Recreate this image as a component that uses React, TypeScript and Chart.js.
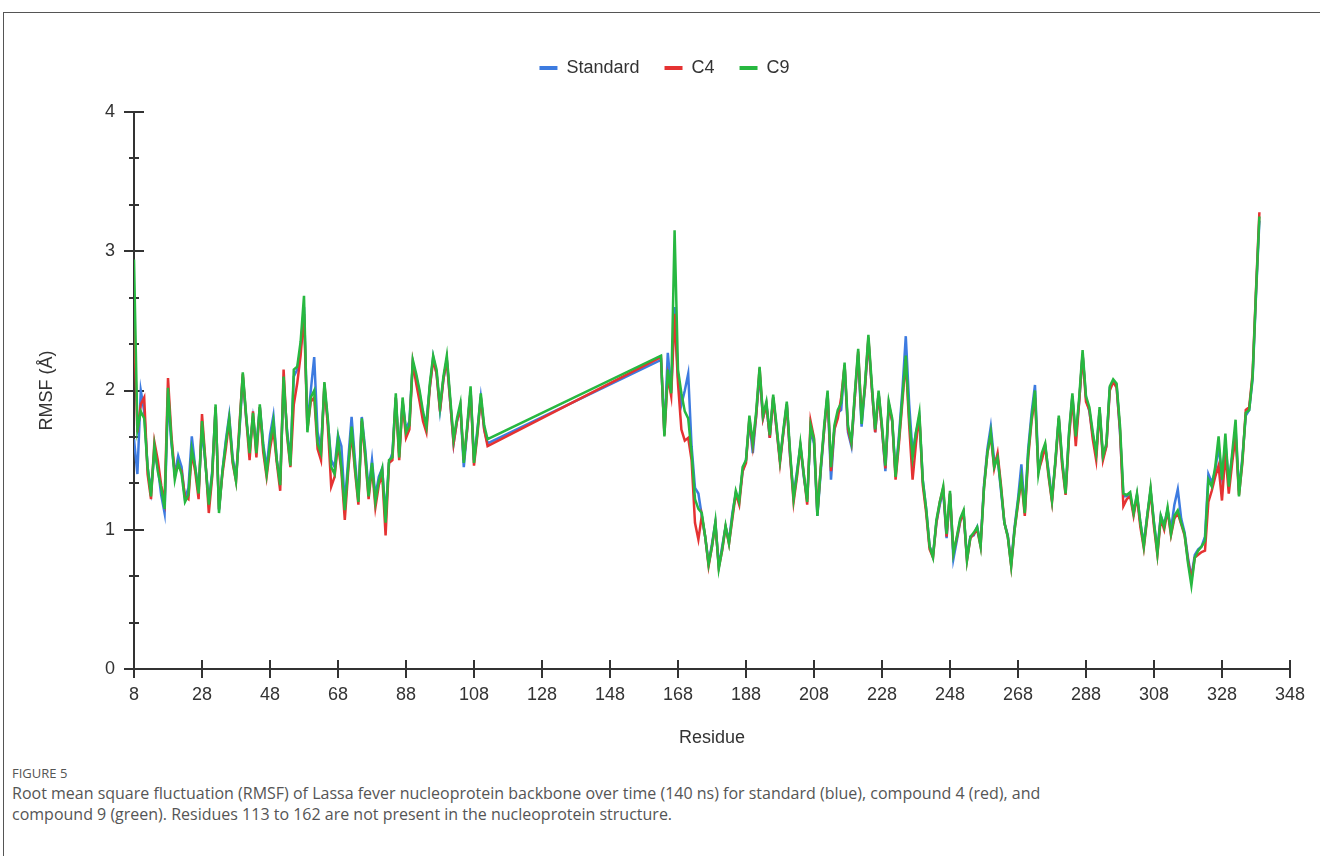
import React, { useEffect, useRef } from 'react';
import { Chart, registerables } from 'chart.js';

Chart.register(...registerables);

// Residue ranges present in the structure (113–162 are missing)
const RESIDUE_SEGMENTS: [number, number][] = [[8, 112], [163, 339]];

const SERIES_NAMES = ['Standard', 'C4', 'C9'];
const SERIES_COLORS = ['#3d7be0', '#e53232', '#27b840'];

// RMSF (Å), residues 8–112 then 163–339
const STANDARD = [
  1.65,1.40,2.00,1.85,1.45,1.28,1.55,1.45,1.25,1.12,
  1.95,1.62,1.40,1.53,1.45,1.22,1.30,1.67,1.45,1.28,
  1.72,1.48,1.20,1.42,1.88,1.14,1.42,1.64,1.82,1.52,
  1.38,1.70,2.10,1.80,1.58,1.80,1.60,1.88,1.62,1.44,
  1.68,1.82,1.50,1.35,2.05,1.72,1.50,2.10,2.15,2.30,
  2.60,1.75,2.00,2.24,1.70,1.58,2.02,1.78,1.50,1.45,
  1.68,1.60,1.18,1.50,1.81,1.50,1.22,1.81,1.58,1.28,
  1.50,1.24,1.38,1.44,1.10,1.48,1.55,1.95,1.55,1.92,
  1.72,1.78,2.20,2.10,1.98,1.82,1.78,2.02,2.24,2.12,
  1.86,2.08,2.22,1.92,1.62,1.78,1.88,1.45,1.72,2.00,
  1.50,1.72,1.95,1.72,1.62,
  2.22,1.70,2.27,2.00,2.60,2.10,1.90,2.00,2.12,1.60,
  1.30,1.26,1.10,0.95,0.76,0.90,1.05,0.74,0.88,1.02,
  0.92,1.12,1.26,1.22,1.42,1.50,1.78,1.55,1.82,2.12,
  1.80,1.90,1.66,1.95,1.72,1.50,1.70,1.90,1.52,1.25,
  1.42,1.60,1.38,1.22,1.72,1.62,1.10,1.42,1.72,1.98,
  1.36,1.72,1.84,1.86,2.18,1.70,1.60,1.95,2.26,1.74,
  2.02,2.36,2.02,1.70,1.98,1.72,1.42,1.90,1.78,1.40,
  1.68,2.00,2.39,1.90,1.55,1.70,1.80,1.36,1.15,0.88,
  0.82,1.05,1.18,1.28,0.94,1.26,0.79,0.92,1.06,1.12,
  0.80,0.95,0.96,1.02,0.90,1.32,1.58,1.74,1.50,1.52,
  1.28,1.05,0.96,0.76,1.02,1.22,1.47,1.14,1.58,1.84,
  2.04,1.45,1.52,1.60,1.42,1.22,1.48,1.80,1.48,1.28,
  1.68,1.96,1.66,1.92,2.26,1.95,1.85,1.68,1.55,1.86,
  1.52,1.60,2.02,2.06,2.04,1.70,1.24,1.24,1.25,1.12,
  1.25,1.05,0.90,1.10,1.28,1.05,0.86,1.10,1.04,1.14,
  1.00,1.18,1.29,1.08,0.98,0.80,0.66,0.82,0.86,0.88,
  0.95,1.40,1.34,1.42,1.60,1.38,1.62,1.35,1.52,1.72,
  1.28,1.52,1.82,1.86,2.08,2.68,3.22,
];

const C4 = [
  2.50,1.70,1.90,1.95,1.40,1.22,1.63,1.50,1.32,1.20,
  2.09,1.68,1.40,1.46,1.42,1.24,1.22,1.55,1.42,1.22,
  1.83,1.50,1.12,1.38,1.88,1.15,1.40,1.58,1.78,1.48,
  1.35,1.75,2.12,1.80,1.50,1.85,1.52,1.88,1.56,1.38,
  1.58,1.72,1.48,1.28,2.15,1.68,1.45,1.90,2.05,2.25,
  2.55,1.72,1.92,1.95,1.58,1.50,2.05,1.75,1.31,1.38,
  1.62,1.42,1.07,1.42,1.70,1.42,1.18,1.78,1.52,1.22,
  1.45,1.16,1.32,1.40,0.96,1.48,1.50,1.95,1.50,1.92,
  1.66,1.72,2.20,2.05,1.92,1.78,1.70,2.02,2.22,2.12,
  1.85,2.08,2.22,1.92,1.62,1.78,1.88,1.50,1.72,2.00,
  1.46,1.68,1.95,1.72,1.60,
  2.24,1.68,2.10,1.96,2.55,2.05,1.72,1.64,1.66,1.50,
  1.05,0.93,1.10,0.95,0.74,0.88,1.04,0.73,0.85,1.02,
  0.90,1.08,1.26,1.18,1.42,1.48,1.80,1.60,1.82,2.16,
  1.80,1.90,1.66,1.95,1.72,1.48,1.70,1.90,1.52,1.20,
  1.38,1.60,1.40,1.18,1.78,1.66,1.12,1.45,1.72,1.98,
  1.42,1.72,1.80,1.95,2.18,1.72,1.62,1.95,2.28,1.80,
  2.02,2.38,2.02,1.70,1.98,1.72,1.44,1.90,1.78,1.36,
  1.62,1.92,2.22,1.75,1.36,1.62,1.82,1.32,1.12,0.86,
  0.80,1.05,1.20,1.30,0.95,1.26,0.84,0.94,1.06,1.12,
  0.78,0.94,0.97,1.00,0.88,1.30,1.55,1.68,1.44,1.55,
  1.32,1.05,0.95,0.74,1.00,1.18,1.36,1.10,1.52,1.78,
  1.95,1.42,1.50,1.60,1.38,1.20,1.48,1.80,1.46,1.25,
  1.66,1.95,1.60,1.92,2.26,1.92,1.86,1.65,1.50,1.86,
  1.50,1.60,2.00,2.06,2.02,1.72,1.17,1.22,1.24,1.10,
  1.24,1.02,0.87,1.08,1.28,1.02,0.82,1.08,1.00,1.14,
  0.96,1.08,1.12,1.04,0.96,0.78,0.64,0.80,0.82,0.84,
  0.85,1.20,1.28,1.38,1.46,1.21,1.55,1.26,1.48,1.68,
  1.25,1.48,1.86,1.88,2.12,2.72,3.28,
];

const C9 = [
  2.94,1.72,1.85,1.80,1.45,1.24,1.60,1.42,1.30,1.15,
  2.02,1.65,1.36,1.48,1.40,1.20,1.25,1.58,1.45,1.26,
  1.78,1.48,1.18,1.40,1.90,1.12,1.42,1.62,1.80,1.50,
  1.35,1.72,2.13,1.82,1.55,1.84,1.55,1.90,1.60,1.40,
  1.62,1.78,1.50,1.32,2.10,1.70,1.46,2.15,2.17,2.35,
  2.68,1.70,1.95,2.00,1.62,1.55,2.06,1.80,1.45,1.40,
  1.66,1.45,1.14,1.45,1.74,1.45,1.20,1.80,1.55,1.24,
  1.48,1.20,1.35,1.44,1.05,1.50,1.52,1.98,1.52,1.95,
  1.70,1.75,2.22,2.12,2.00,1.85,1.74,2.05,2.25,2.15,
  1.88,2.10,2.25,1.95,1.65,1.80,1.91,1.48,1.75,2.03,
  1.48,1.70,1.98,1.75,1.65,
  2.25,1.67,2.15,1.98,3.15,2.15,1.98,1.85,1.80,1.55,
  1.22,1.15,1.12,0.95,0.75,0.88,1.06,0.72,0.86,1.03,
  0.90,1.10,1.28,1.20,1.45,1.50,1.82,1.62,1.85,2.17,
  1.82,1.92,1.68,1.97,1.75,1.50,1.72,1.92,1.55,1.22,
  1.40,1.62,1.40,1.20,1.75,1.65,1.10,1.45,1.75,2.00,
  1.45,1.75,1.86,1.91,2.20,1.75,1.63,1.98,2.30,1.76,
  2.05,2.40,2.05,1.72,2.00,1.75,1.46,1.92,1.80,1.38,
  1.65,1.95,2.25,1.80,1.52,1.70,1.84,1.35,1.15,0.88,
  0.80,1.07,1.20,1.31,0.97,1.28,0.83,0.95,1.08,1.14,
  0.78,0.95,0.98,1.02,0.88,1.30,1.55,1.70,1.45,1.52,
  1.30,1.05,0.95,0.74,1.00,1.20,1.38,1.12,1.55,1.80,
  2.00,1.40,1.55,1.62,1.40,1.21,1.50,1.82,1.50,1.26,
  1.70,1.98,1.67,1.95,2.29,1.96,1.88,1.70,1.55,1.88,
  1.53,1.62,2.03,2.08,2.05,1.75,1.26,1.25,1.27,1.12,
  1.26,1.05,0.88,1.10,1.30,1.05,0.83,1.10,1.02,1.16,
  0.97,1.10,1.14,1.05,0.97,0.76,0.60,0.80,0.85,0.88,
  0.92,1.36,1.31,1.45,1.67,1.36,1.69,1.31,1.55,1.79,
  1.24,1.50,1.84,1.86,2.10,2.70,3.25,
];

const X_TICKS = [8, 28, 48, 68, 88, 108, 128, 148, 168, 188, 208, 228, 248, 268, 288, 308, 328, 348];
const Y_TICKS = [0, 0.3333, 0.6667, 1, 1.3333, 1.6667, 2, 2.3333, 2.6667, 3, 3.3333, 3.6667, 4];

const X_TITLE = 'Residue';
const Y_TITLE = 'RMSF (Å)';
const FIGURE_LABEL = 'FIGURE 5';
const CAPTION_LINES = [
  'Root mean square fluctuation (RMSF) of Lassa fever nucleoprotein backbone over time (140 ns) for standard (blue), compound 4 (red), and',
  'compound 9 (green). Residues 113 to 162 are not present in the nucleoprotein structure.',
];

const FONT_FAMILY = '"Liberation Sans", Arial, sans-serif';
const TEXT_COLOR = '#333333';
const AXIS_COLOR = '#333333';

const isMajor = (v: number) => Math.abs(v - Math.round(v)) < 1e-3;

function buildResidues(): number[] {
  const out: number[] = [];
  for (const [a, b] of RESIDUE_SEGMENTS) for (let r = a; r <= b; r++) out.push(r);
  return out;
}

const axisTickPlugin = {
  id: 'axisTickMarks',
  beforeDatasetsDraw(chart: any) {
    const { ctx, chartArea, scales } = chart;
    const xs = scales.x;
    const ys = scales.y;
    ctx.save();
    ctx.strokeStyle = AXIS_COLOR;
    ctx.lineWidth = 2;
    ctx.beginPath();
    X_TICKS.forEach((v) => {
      const px = Math.round(xs.getPixelForValue(v));
      ctx.moveTo(px, chartArea.bottom - 9);
      ctx.lineTo(px, chartArea.bottom + 9);
    });
    Y_TICKS.forEach((v) => {
      const py = Math.round(ys.getPixelForValue(v));
      const len = isMajor(v) ? 10 : 5;
      ctx.moveTo(chartArea.left - len, py);
      ctx.lineTo(chartArea.left + len, py);
    });
    ctx.stroke();
    ctx.restore();
  },
};

export default function App() {
  const canvasRef = useRef<HTMLCanvasElement | null>(null);

  useEffect(() => {
    const canvas = canvasRef.current;
    if (!canvas) return;
    const residues = buildResidues();
    const seriesValues = [STANDARD, C4, C9];
    const datasets = SERIES_NAMES.map((name, i) => ({
      label: name,
      data: residues.map((r, j) => ({ x: r, y: seriesValues[i][j] })),
      borderColor: SERIES_COLORS[i],
      backgroundColor: SERIES_COLORS[i],
      borderWidth: 2.5,
      pointRadius: 0,
      tension: 0,
      fill: false,
      order: 3 - i,
    }));

    const font = { family: FONT_FAMILY, size: 18 };

    const chart = new Chart(canvas, {
      type: 'line',
      data: { datasets },
      plugins: [axisTickPlugin],
      options: {
        animation: false,
        responsive: false,
        maintainAspectRatio: false,
        layout: { padding: { left: 36, right: 27, top: 34, bottom: 1 } },
        plugins: {
          tooltip: { enabled: false },
          legend: {
            display: true,
            position: 'top',
            align: 'center',
            labels: {
              boxWidth: 18,
              boxHeight: 4,
              padding: 25,
              color: TEXT_COLOR,
              font,
              sort: (a: any, b: any) => a.datasetIndex - b.datasetIndex,
              generateLabels: (ch: any) =>
                (Chart.defaults.plugins.legend.labels.generateLabels as any)(ch).map((l: any) => ({
                  ...l,
                  lineWidth: 0,
                })),
            },
          },
          subtitle: {
            display: true,
            text: '',
            position: 'top',
            weight: 500,
            font: { size: 10 },
            padding: { top: 13, bottom: 0 },
          },
        },
        scales: {
          x: {
            type: 'linear',
            min: 8,
            max: 348,
            afterBuildTicks: (s: any) => {
              s.ticks = X_TICKS.map((v) => ({ value: v }));
            },
            afterFit: (s: any) => {
              s.height = 90;
            },
            ticks: {
              autoSkip: false,
              maxRotation: 0,
              padding: 15,
              color: TEXT_COLOR,
              font,
              callback: (v: any) => String(v),
            },
            grid: { display: false, drawTicks: false },
            border: { display: true, color: AXIS_COLOR, width: 2 },
            title: {
              display: true,
              text: X_TITLE,
              color: TEXT_COLOR,
              font,
              padding: { top: 0, bottom: 10 },
            },
          },
          y: {
            type: 'linear',
            min: 0,
            max: 4,
            afterBuildTicks: (s: any) => {
              s.ticks = Y_TICKS.map((v) => ({ value: v }));
            },
            afterFit: (s: any) => {
              s.width = 98;
            },
            ticks: {
              autoSkip: false,
              padding: 19,
              color: TEXT_COLOR,
              font,
              callback: (v: any) => (isMajor(v) ? String(Math.round(v)) : ''),
            },
            grid: { display: false, drawTicks: false },
            border: { display: true, color: AXIS_COLOR, width: 2 },
            title: {
              display: true,
              text: Y_TITLE,
              color: TEXT_COLOR,
              font,
              padding: { top: 0, bottom: 0 },
            },
          },
        },
      } as any,
    });
    return () => chart.destroy();
  }, []);

  return (
    <div style={{ position: 'absolute', left: 0, top: 0, width: 1320, height: 856, overflow: 'hidden', background: '#fff' }}>
      <div
        style={{
          position: 'absolute',
          left: 3,
          top: 12,
          width: 1340,
          height: 900,
          borderLeft: '1px solid #555',
          borderTop: '1px solid #555',
        }}
      />
      <canvas ref={canvasRef} width={1320} height={760} style={{ position: 'absolute', left: 0, top: 0, width: 1320, height: 760 }} />
      <div
        style={{
          position: 'absolute',
          left: 12,
          top: 765,
          fontFamily: '"Open Sans", sans-serif',
          color: '#555',
          whiteSpace: 'nowrap',
        }}
      >
        <div style={{ fontSize: 13, lineHeight: '16px', marginBottom: 2 }}>{FIGURE_LABEL}</div>
        {CAPTION_LINES.map((line, i) => (
          <div key={i} style={{ fontSize: 16, lineHeight: '21px' }}>
            {line}
          </div>
        ))}
      </div>
    </div>
  );
}
